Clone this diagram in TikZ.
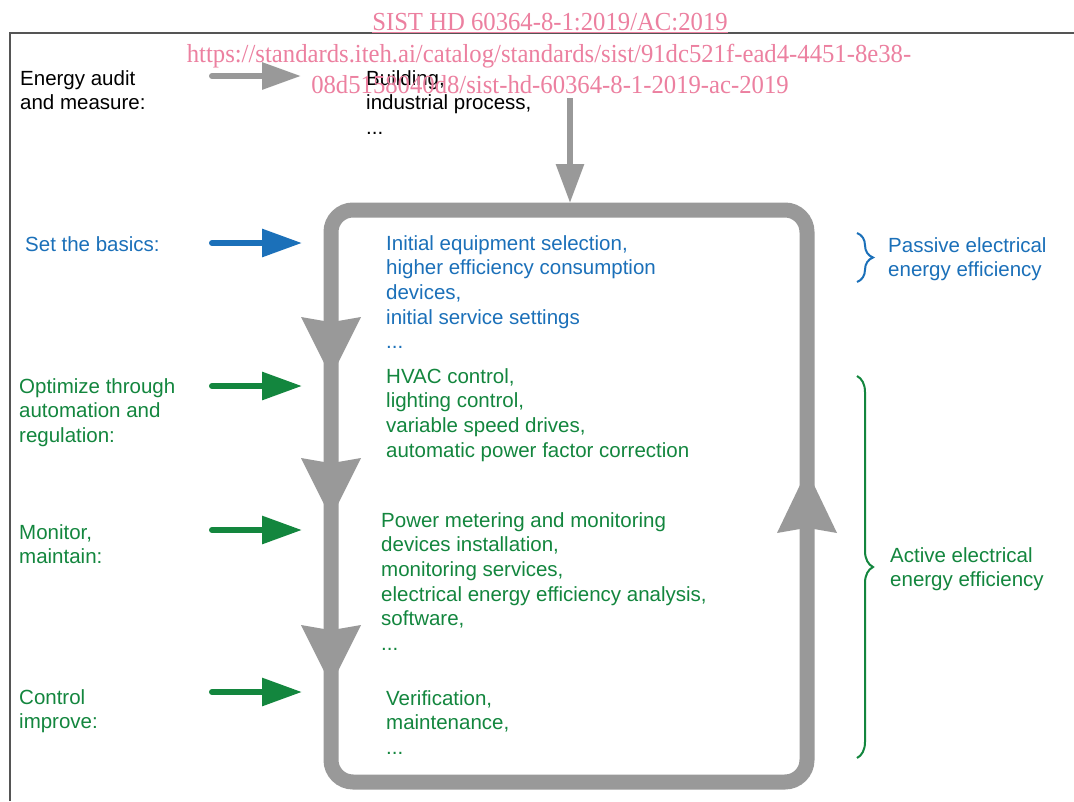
\documentclass[tikz,border=0pt]{standalone}
\usepackage{fontspec}
\setmainfont{Liberation Sans}
\newfontfamily\wmfont[FakeStretch=0.95]{Liberation Serif}
\usetikzlibrary{arrows.meta,decorations.pathreplacing}
\definecolor{ieblue}{RGB}{27,112,185}
\definecolor{iegreen}{RGB}{19,134,62}
\definecolor{loopgray}{RGB}{153,153,153}
\definecolor{wmpink}{RGB}{236,128,160}
\definecolor{framegray}{RGB}{85,85,85}
\begin{document}
\begin{tikzpicture}[x=1pt,y=-1pt,
  txt/.style={anchor=north west, inner sep=0pt, align=left, font=\fontsize{20.5}{24.7}\selectfont},
  wm/.style={anchor=base, inner sep=0pt, text=wmpink, font=\wmfont\fontsize{26}{30}\selectfont},
  inarrow/.style={line width=6pt, line cap=round, -{Triangle[length=40pt,width=27pt]}},
  feedarrow/.style={loopgray, line width=6pt, -{Triangle[length=39pt,width=27pt]}},
  loopline/.style={loopgray, line width=15pt, rounded corners=22pt},
  bracestyle/.style={line width=2pt, decorate, decoration={brace, amplitude=16pt, aspect=0.5}},
  downhead/.pic={\fill[loopgray] (-30,0) -- (-7,4) -- (7,4) -- (30,0) -- (7,46) -- (-7,46) -- cycle;},
  uphead/.pic={\fill[loopgray] (-30,0) -- (-7,-4) -- (7,-4) -- (30,0) -- (7,-48) -- (-7,-48) -- cycle;}
]
\useasboundingbox (0,0) rectangle (1074,801);
\fill[white] (0,0) rectangle (1074,801);

% frame
\coordinate (frameBL) at (10,801);
\coordinate (frameTL) at (10,33);
\coordinate (frameTR) at (1074,33);
\draw[framegray, line width=1.5pt] (frameBL) -- (frameTL) -- (frameTR);

% loop
\coordinate (loopNW) at (331,210);
\coordinate (loopSE) at (807,782);
\draw[loopline] (loopNW) rectangle (loopSE);
\pic at (331,317) {downhead};
\pic at (331,458) {downhead};
\pic at (331,625) {downhead};
\pic at (807,533) {uphead};

% feed arrow from building to loop
\coordinate (bldfeed) at (570,98);
\coordinate (looptop) at (570,203);
\draw[feedarrow] (bldfeed) -- (looptop);

% texts
\node[txt] (audit) at (20,70) {Energy audit\\and measure:};
\node[txt] (bld) at (366,70) {Building,\\industrial process,\\...};
\node[txt, text=ieblue] (basics) at (25,236) {Set the basics:};
\node[txt, text=ieblue] (basicstxt) at (386,235) {Initial equipment selection,\\higher efficiency consumption\\devices,\\initial service settings\\...};
\node[txt, text=iegreen] (opt) at (19,378) {Optimize through\\automation and\\regulation:};
\node[txt, text=iegreen] (opttxt) at (386,368) {HVAC control,\\lighting control,\\variable speed drives,\\automatic power factor correction};
\node[txt, text=iegreen] (mon) at (19,524) {Monitor,\\maintain:};
\node[txt, text=iegreen] (montxt) at (381,512) {Power metering and monitoring\\devices installation,\\monitoring services,\\electrical energy efficiency analysis,\\software,\\...};
\node[txt, text=iegreen] (ctl) at (19,689) {Control\\improve:};
\node[txt, text=iegreen] (ctltxt) at (386,690) {Verification,\\maintenance,\\...};
\node[txt, text=ieblue] (passive) at (888,237) {Passive electrical\\energy efficiency};
\node[txt, text=iegreen] (active) at (890,547) {Active electrical\\energy efficiency};

% input arrows
\coordinate (a1s) at (212,76);  \coordinate (a1e) at (301,76);
\coordinate (a2s) at (212,243); \coordinate (a2e) at (302,243);
\coordinate (a3s) at (212,386); \coordinate (a3e) at (302,386);
\coordinate (a4s) at (212,530); \coordinate (a4e) at (302,530);
\coordinate (a5s) at (212,692); \coordinate (a5e) at (302,692);
\draw[inarrow, loopgray, -{Triangle[length=39pt,width=26pt]}] (a1s) -- (a1e);
\draw[inarrow, ieblue] (a2s) -- (a2e);
\draw[inarrow, iegreen] (a3s) -- (a3e);
\draw[inarrow, iegreen] (a4s) -- (a4e);
\draw[inarrow, iegreen] (a5s) -- (a5e);

% braces
\coordinate (pbT) at (857,233); \coordinate (pbB) at (857,282);
\coordinate (abT) at (857,376); \coordinate (abB) at (857,758);
\draw[bracestyle, ieblue] (pbT) -- (pbB);
\draw[bracestyle, iegreen] (abT) -- (abB);

% watermark
\node[wm] (wm1) at (550,30) {\underline{SIST HD 60364-8-1:2019/AC:2019}};
\node[wm] (wm2) at (549,62) {https://standards.iteh.ai/catalog/standards/sist/91dc521f-ead4-4451-8e38-};
\node[wm] (wm3) at (550,93) {08d5158040d8/sist-hd-60364-8-1-2019-ac-2019};
\end{tikzpicture}
\end{document}
